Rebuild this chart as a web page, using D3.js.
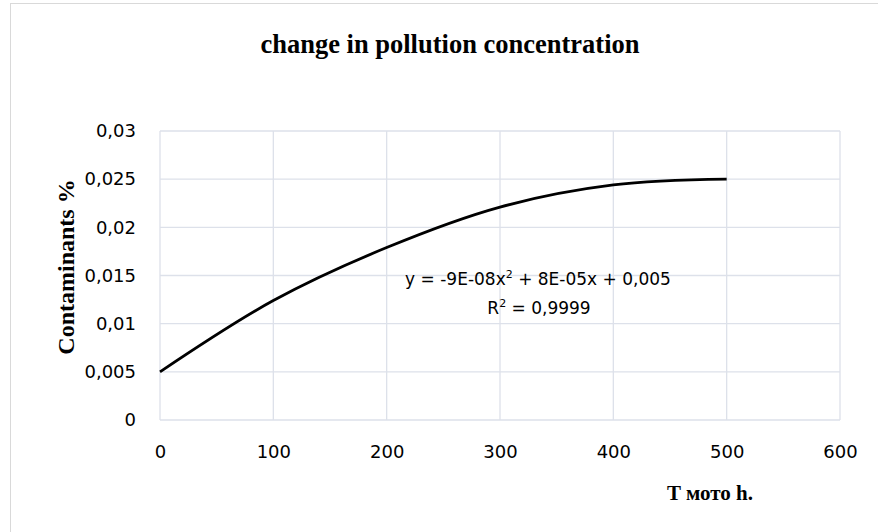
<!DOCTYPE html>
<html>
<head>
<meta charset="utf-8">
<script src="https://cdn.jsdelivr.net/npm/d3@7"></script>
<style>
  body { margin: 0; background: #fff; }
</style>
</head>
<body>
<div id="chart"></div>
<script>
// data
var hours = [0, 100, 200, 300, 400, 500];
var contaminants = [0.005, 0.0124, 0.0179, 0.0221, 0.0244, 0.025];
var xTicks = [0, 100, 200, 300, 400, 500, 600];
var yTicks = [0, 0.005, 0.01, 0.015, 0.02, 0.025, 0.03];

const width = 878;
const height = 532;
const plotLeft = 160, plotRight = 840, plotTop = 131, plotBottom = 420;

const svg = d3.select('#chart')
    .append('svg')
    .attr('width', width)
    .attr('height', height);

// outer chart frame
svg.append('rect')
    .attr('x', 10.5).attr('y', 3.5)
    .attr('width', 880).attr('height', 540)
    .attr('fill', 'none')
    .attr('stroke', '#d9d9d9');

var x = d3.scaleLinear().domain([0, 600]).range([plotLeft, plotRight]);
var y = d3.scaleLinear().domain([0, 0.03]).range([plotBottom, plotTop]);

var fmt = function(d) { return String(+d.toFixed(3)).replace('.', ','); };

// grid
svg.append('g')
    .selectAll('line')
    .data(yTicks)
    .enter()
    .append('line')
    .attr('x1', plotLeft).attr('x2', plotRight)
    .attr('y1', function(d) { return y(d); })
    .attr('y2', function(d) { return y(d); })
    .attr('stroke', '#dde1ea')
    .attr('stroke-width', 1.3);

svg.append('g')
    .selectAll('line')
    .data(xTicks)
    .enter()
    .append('line')
    .attr('y1', plotTop).attr('y2', plotBottom)
    .attr('x1', function(d) { return x(d); })
    .attr('x2', function(d) { return x(d); })
    .attr('stroke', '#dde1ea')
    .attr('stroke-width', 1.3);

// axes (labels only)
var yAxis = svg.append('g')
    .attr('transform', 'translate(' + plotLeft + ',0)')
    .call(d3.axisLeft(y).tickValues(yTicks).tickFormat(fmt).tickSize(0).tickPadding(24));
var xAxis = svg.append('g')
    .attr('transform', 'translate(0,' + plotBottom + ')')
    .call(d3.axisBottom(x).tickValues(xTicks).tickSize(0).tickPadding(25));

[yAxis, xAxis].forEach(function(a) {
    a.select('.domain').remove();
    a.selectAll('text')
        .attr('font-family', 'DejaVu Sans')
        .attr('font-size', 18)
        .attr('fill', '#000');
});

// curve
var line = d3.line()
    .x(function(d, i) { return x(hours[i]); })
    .y(function(d) { return y(d); })
    .curve(d3.curveCatmullRom);

svg.append('path')
    .datum(contaminants)
    .attr('d', line)
    .attr('fill', 'none')
    .attr('stroke', '#000')
    .attr('stroke-width', 2.8);

// trendline text
svg.append('text')
    .attr('x', 538).attr('y', 285)
    .attr('text-anchor', 'middle')
    .attr('font-family', 'DejaVu Sans')
    .attr('font-size', 17)
    .html('y = -9E-08x<tspan dy="-7" font-size="11">2</tspan><tspan dy="7"> + 8E-05x + 0,005</tspan>');
svg.append('text')
    .attr('x', 539).attr('y', 314)
    .attr('text-anchor', 'middle')
    .attr('font-family', 'DejaVu Sans')
    .attr('font-size', 17)
    .html('R<tspan dy="-7" font-size="11">2</tspan><tspan dy="7"> = 0,9999</tspan>');

// titles
svg.append('text')
    .attr('x', 450).attr('y', 53)
    .attr('text-anchor', 'middle')
    .attr('font-family', 'Liberation Serif')
    .attr('font-weight', 'bold')
    .attr('font-size', 26.5)
    .text('change in pollution concentration');

svg.append('text')
    .attr('transform', 'translate(74,267) rotate(-90)')
    .attr('text-anchor', 'middle')
    .attr('font-family', 'Liberation Serif')
    .attr('font-weight', 'bold')
    .attr('font-size', 24)
    .text('Contaminants %');

svg.append('text')
    .attr('x', 710).attr('y', 500)
    .attr('text-anchor', 'middle')
    .attr('font-family', 'Liberation Serif')
    .attr('font-weight', 'bold')
    .attr('font-size', 21)
    .text('T мото h.');
</script>
</body>
</html>
